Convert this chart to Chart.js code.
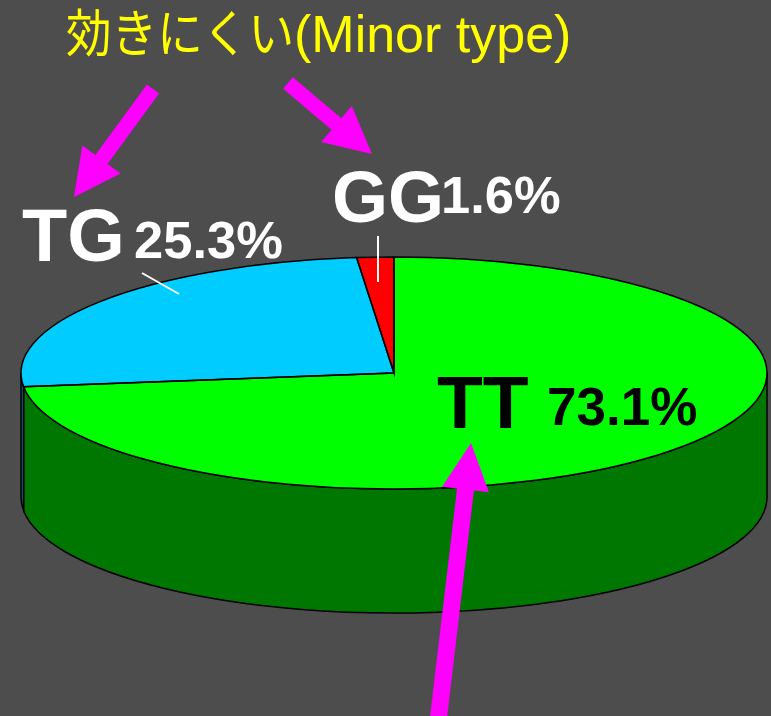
<!DOCTYPE html>
<html>
<head>
<meta charset="utf-8">
<script src="https://cdn.jsdelivr.net/npm/chart.js@4.4.0/dist/chart.umd.min.js"></script>
<style>
  html, body { margin: 0; padding: 0; background: #4d4d4d; }
  canvas { display: block; }
</style>
</head>
<body>
<canvas id="pieChart" width="771" height="716"></canvas>
<script>
const genotypes = ["TT", "TG", "GG"];
const shares = [73.1, 25.3, 1.6];
const topColors = ["#00ff00", "#00ccff", "#ff0000"];
const sideColors = ["#007700", "#005f7a", "#7a0000"];
const titleJa = "効きにくい";
const titleEn = "(Minor type)";

// where the tilted pie sits on screen
const PIE = { cx: 394, cy: 373, rx: 373, ry: 116, depth: 124 };

// label placement: [name x, name baseline, name size, pct x, pct baseline, pct size, colour]
const labelPos = {
  TT: [437, 428, 75, 547, 425, 53, "#000"],
  TG: [22, 261, 74, 134, 258, 52.5, "#fff"],
  GG: [332, 222, 72, 441, 213, 52.5, "#fff"]
};

function drawArrow(c, tail, tip, shaftW, headLen, headHalf) {
  const dx = tip[0] - tail[0], dy = tip[1] - tail[1];
  const len = Math.hypot(dx, dy);
  const ux = dx / len, uy = dy / len;
  const px = -uy, py = ux;
  const bx = tip[0] - ux * headLen, by = tip[1] - uy * headLen;
  c.beginPath();
  c.moveTo(tail[0] + px * shaftW / 2, tail[1] + py * shaftW / 2);
  c.lineTo(bx + px * shaftW / 2, by + py * shaftW / 2);
  c.lineTo(bx + px * headHalf, by + py * headHalf);
  c.lineTo(tip[0], tip[1]);
  c.lineTo(bx - px * headHalf, by - py * headHalf);
  c.lineTo(bx - px * shaftW / 2, by - py * shaftW / 2);
  c.lineTo(tail[0] - px * shaftW / 2, tail[1] - py * shaftW / 2);
  c.closePath();
  c.fillStyle = "#ff00ff";
  c.fill();
}

const pie3d = {
  id: "pie3d",
  beforeDraw(chart) {
    const c = chart.ctx;
    c.save();
    c.fillStyle = "#4d4d4d";
    c.fillRect(0, 0, chart.width, chart.height);
    c.restore();
  },
  beforeDatasetsDraw(chart) {
    const c = chart.ctx;
    const arcs = chart.getDatasetMeta(0).data;
    // side wall, only the front half shows
    arcs.forEach((arc, i) => {
      const s = arc.startAngle, e = arc.endAngle;
      for (let k = -1; k <= 1; k++) {
        const lo = Math.max(s, 2 * Math.PI * k);
        const hi = Math.min(e, 2 * Math.PI * k + Math.PI);
        if (hi <= lo) continue;
        c.beginPath();
        c.ellipse(PIE.cx, PIE.cy, PIE.rx, PIE.ry, 0, lo, hi);
        c.lineTo(PIE.cx + PIE.rx * Math.cos(hi), PIE.cy + PIE.depth + PIE.ry * Math.sin(hi));
        c.ellipse(PIE.cx, PIE.cy + PIE.depth, PIE.rx, PIE.ry, 0, hi, lo, true);
        c.closePath();
        c.fillStyle = sideColors[i];
        c.fill();
        c.lineWidth = 1.5;
        c.strokeStyle = "#000";
        c.stroke();
      }
    });
    // squash the library's pie into the top face
    const a = arcs[0];
    c.save();
    c.translate(PIE.cx, PIE.cy);
    c.scale(PIE.rx / a.outerRadius, PIE.ry / a.outerRadius);
    c.translate(-a.x, -a.y);
  },
  afterDatasetsDraw(chart) {
    const c = chart.ctx;
    c.restore();
    const arcs = chart.getDatasetMeta(0).data;
    c.save();
    c.lineWidth = 1.5;
    c.strokeStyle = "#000";
    arcs.forEach(arc => {
      c.beginPath();
      c.moveTo(PIE.cx, PIE.cy);
      c.ellipse(PIE.cx, PIE.cy, PIE.rx, PIE.ry, 0, arc.startAngle, arc.endAngle);
      c.closePath();
      c.stroke();
    });
    c.restore();
  },
  afterDraw(chart) {
    const c = chart.ctx;
    c.save();

    // title
    c.fillStyle = "#ffff00";
    c.textBaseline = "alphabetic";
    c.font = "51px 'Noto Sans CJK JP'";
    const jw = c.measureText(titleJa).width;
    c.save();
    c.translate(66, 52);
    c.scale(228 / jw, 1);
    c.fillText(titleJa, 0, 0);
    c.restore();
    c.font = "52px 'Liberation Sans', Arial, sans-serif";
    c.fillText(titleEn, 294, 52);

    // slice labels
    genotypes.forEach((g, i) => {
      const p = labelPos[g];
      c.fillStyle = p[6];
      c.font = "bold " + p[2] + "px 'Liberation Sans', Arial, sans-serif";
      c.fillText(g, p[0], p[1]);
      c.font = "bold " + p[5] + "px 'Liberation Sans', Arial, sans-serif";
      c.fillText(shares[i].toFixed(1) + "%", p[3], p[4]);
    });

    // leader lines
    c.strokeStyle = "#fff";
    c.lineWidth = 2;
    c.beginPath();
    c.moveTo(142, 273); c.lineTo(179, 294);
    c.moveTo(378, 236); c.lineTo(378, 282);
    c.stroke();

    // arrows
    drawArrow(c, [153, 89], [74, 197], 15, 46.5, 23.7);
    drawArrow(c, [288, 83], [372, 154], 15, 46.5, 23.7);
    drawArrow(c, [437, 730], [471, 443], 17, 46.8, 23.6);

    c.restore();
  }
};

new Chart(document.getElementById("pieChart"), {
  type: "pie",
  data: {
    labels: genotypes,
    datasets: [{
      data: shares,
      backgroundColor: topColors,
      borderWidth: 0,
      hoverOffset: 0
    }]
  },
  options: {
    responsive: false,
    animation: false,
    events: [],
    layout: { padding: 0 },
    plugins: {
      legend: { display: false },
      tooltip: { enabled: false }
    }
  },
  plugins: [pie3d]
});
</script>
</body>
</html>
